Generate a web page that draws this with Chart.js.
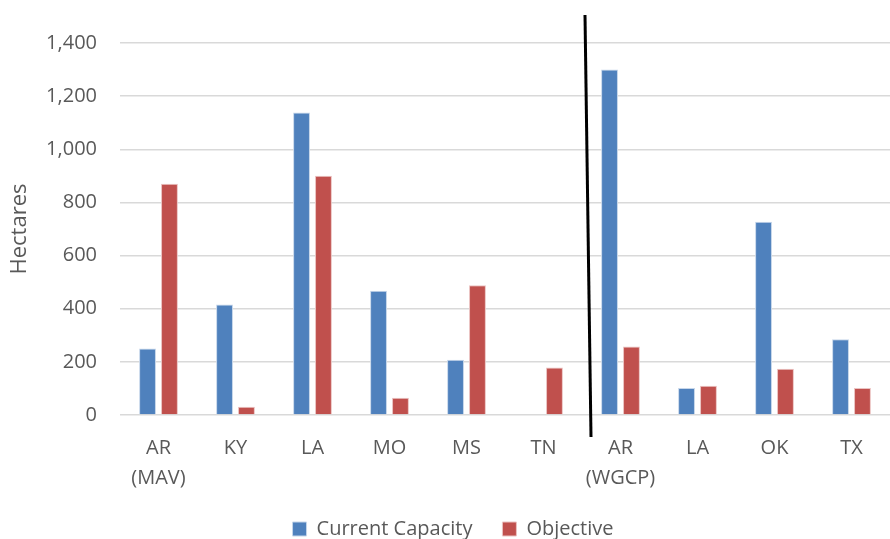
<!DOCTYPE html>
<html>
<head>
<meta charset="utf-8">
<script src="https://cdn.jsdelivr.net/npm/chart.js@4"></script>
<style>
  html, body { margin: 0; padding: 0; background: #fff; }
  #wrap { width: 890px; height: 539px; }
</style>
</head>
<body>
<div id="wrap"><canvas id="myChart" width="890" height="539"></canvas></div>
<script>
// chart data
const categories = [["AR", "(MAV)"], "KY", "LA", "MO", "MS", "TN", ["AR", "(WGCP)"], "LA", "OK", "TX"];
const currentCapacity = [250, 416, 1138, 468, 208, 0, 1300, 102, 727, 285];
const objective = [870, 31, 900, 65, 488, 179, 258, 110, 174, 102];
const seriesNames = ["Current Capacity", "Objective"];
const yTicks = { min: 0, max: 1400, step: 200 };
const dividerAfter = 5; // region split between TN and AR (WGCP)

const font = { family: "'Open Sans', sans-serif", size: 20 };
const textColor = '#595959';

// black slanted line separating the two regions
const dividerPlugin = {
    id: 'divider',
    afterDatasetsDraw(chart) {
        const x = chart.scales.x;
        const area = chart.chartArea;
        const mid = (x.getPixelForValue(dividerAfter) + x.getPixelForValue(dividerAfter + 1)) / 2;
        const ctx = chart.ctx;
        ctx.save();
        ctx.strokeStyle = '#000';
        ctx.lineWidth = 3;
        ctx.beginPath();
        ctx.moveTo(mid + 3, area.top - 28);
        ctx.lineTo(mid + 9, area.bottom + 22);
        ctx.stroke();
        ctx.restore();
    }
};

const data = {
    labels: categories,
    datasets: [
        {
            label: seriesNames[0],
            data: currentCapacity,
            backgroundColor: '#4F81BD',
            borderColor: '#C6D6EA',
            borderWidth: 1,
        },
        {
            label: seriesNames[1],
            data: objective,
            backgroundColor: '#C0504D',
            borderColor: '#EBC3C2',
            borderWidth: 1,
        }
    ]
};

new Chart(document.getElementById('myChart'), {
    type: 'bar',
    data,
    plugins: [dividerPlugin],
    options: {
        responsive: false,
        animation: false,
        datasets: {
            bar: { categoryPercentage: 0.57, barPercentage: 0.77 }
        },
        layout: { padding: { top: 43, right: 0, left: 16, bottom: -10 } },
        scales: {
            x: {
                afterFit: (scale) => { scale.height -= 14; },
                grid: { display: false },
                border: { display: false },
                ticks: {
                    color: textColor,
                    font: { family: font.family, size: 20, lineHeight: 1.5 },
                    padding: 10,
                    maxRotation: 0,
                    autoSkip: false
                }
            },
            y: {
                min: yTicks.min,
                max: yTicks.max,
                afterFit: (scale) => { scale.width = 104; },
                grid: { color: '#D9D9D9', lineWidth: 1.5, drawTicks: false },
                border: { display: false },
                ticks: {
                    stepSize: yTicks.step,
                    color: textColor,
                    font: font,
                    padding: 23,
                    callback: (v) => v.toLocaleString('en-US')
                },
                title: {
                    display: true,
                    text: 'Hectares',
                    color: textColor,
                    font: { family: font.family, size: 22 },
                    padding: { top: -9, bottom: 0 }
                }
            }
        },
        plugins: {
            legend: {
                position: 'bottom',
                labels: {
                    color: textColor,
                    font: font,
                    boxWidth: 14,
                    boxHeight: 14,
                    padding: 30,
                }
            },
            tooltip: { enabled: false }
        }
    }
});
</script>
</body>
</html>
